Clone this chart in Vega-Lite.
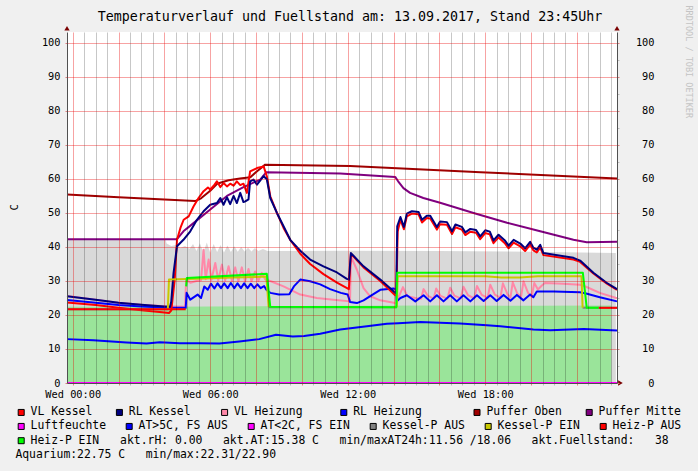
{
 "$schema": "https://vega.github.io/schema/vega-lite/v6.json",
 "width": 550,
 "height": 351,
 "autosize": {"type": "none"},
 "padding": {"left": 67, "top": 32, "right": 81, "bottom": 88},
 "background": "#F0F0F0",
 "title": {"text": "Temperaturverlauf und Fuellstand am: 13.09.2017, Stand 23:45Uhr", "font": "DejaVu Sans Mono", "fontSize": 13.3, "fontWeight": "normal", "color": "#000000", "anchor": "middle", "frame": "group", "dx": 8, "baseline": "middle", "offset": -25},
 "config": {"view": {"fill": "#FFFFFF", "stroke": null}, "font": "DejaVu Sans Mono"},
 "datasets": {
  "series": [
   {"s":"Fuellstand","t":-0.25,"v":42.2},{"s":"Fuellstand","t":4.05,"v":42.2},{"s":"Fuellstand","t":4.1,"v":41.0},{"s":"Fuellstand","t":4.3,"v":40.3},{"s":"Fuellstand","t":4.5,"v":40.6},{"s":"Fuellstand","t":4.7,"v":39.8},{"s":"Fuellstand","t":4.9,"v":40.3},{"s":"Fuellstand","t":5.1,"v":39.5},{"s":"Fuellstand","t":5.25,"v":40.9},{"s":"Fuellstand","t":5.4,"v":38.8},{"s":"Fuellstand","t":5.55,"v":41.1},{"s":"Fuellstand","t":5.7,"v":38.4},{"s":"Fuellstand","t":5.85,"v":41.3},{"s":"Fuellstand","t":6.0,"v":38.3},{"s":"Fuellstand","t":6.15,"v":40.9},{"s":"Fuellstand","t":6.3,"v":38.5},{"s":"Fuellstand","t":6.45,"v":40.6},{"s":"Fuellstand","t":6.6,"v":38.4},{"s":"Fuellstand","t":6.75,"v":40.4},{"s":"Fuellstand","t":6.9,"v":38.5},{"s":"Fuellstand","t":7.05,"v":40.2},{"s":"Fuellstand","t":7.2,"v":38.6},{"s":"Fuellstand","t":7.35,"v":40.0},{"s":"Fuellstand","t":7.5,"v":38.7},{"s":"Fuellstand","t":7.65,"v":39.8},{"s":"Fuellstand","t":7.8,"v":38.7},{"s":"Fuellstand","t":7.95,"v":39.7},{"s":"Fuellstand","t":8.1,"v":38.8},{"s":"Fuellstand","t":8.3,"v":39.4},{"s":"Fuellstand","t":8.5,"v":38.8},{"s":"Fuellstand","t":12,"v":38.9},{"s":"Fuellstand","t":16,"v":38.8},{"s":"Fuellstand","t":20,"v":38.6},{"s":"Fuellstand","t":23.7,"v":38.2},
   {"s":"Aquarium","t":-0.25,"v":22.4},{"s":"Aquarium","t":4,"v":22.4},{"s":"Aquarium","t":8,"v":22.6},{"s":"Aquarium","t":12,"v":22.7},{"s":"Aquarium","t":16,"v":22.8},{"s":"Aquarium","t":20,"v":22.7},{"s":"Aquarium","t":23.5,"v":22.75},
   {"s":"Puffer Oben","t":-0.25,"v":55.4},{"s":"Puffer Oben","t":2,"v":54.6},{"s":"Puffer Oben","t":5.34,"v":53.5},{"s":"Puffer Oben","t":5.6,"v":54.3},{"s":"Puffer Oben","t":6.0,"v":56.5},{"s":"Puffer Oben","t":6.3,"v":58.6},{"s":"Puffer Oben","t":6.8,"v":59.6},{"s":"Puffer Oben","t":7.3,"v":60.1},{"s":"Puffer Oben","t":7.75,"v":60.5},{"s":"Puffer Oben","t":8.03,"v":62.2},{"s":"Puffer Oben","t":8.4,"v":64.2},{"s":"Puffer Oben","t":12.1,"v":63.8},{"s":"Puffer Oben","t":17.8,"v":62.0},{"s":"Puffer Oben","t":23.75,"v":60.1},
   {"s":"Puffer Mitte","t":-0.25,"v":42.3},{"s":"Puffer Mitte","t":4.55,"v":42.3},{"s":"Puffer Mitte","t":4.83,"v":44.6},{"s":"Puffer Mitte","t":5.27,"v":47.0},{"s":"Puffer Mitte","t":6.0,"v":51.0},{"s":"Puffer Mitte","t":6.73,"v":55.0},{"s":"Puffer Mitte","t":7.45,"v":57.6},{"s":"Puffer Mitte","t":8.18,"v":59.8},{"s":"Puffer Mitte","t":8.45,"v":62.0},{"s":"Puffer Mitte","t":11.67,"v":61.6},{"s":"Puffer Mitte","t":14.07,"v":60.6},{"s":"Puffer Mitte","t":14.2,"v":59.3},{"s":"Puffer Mitte","t":14.43,"v":57.3},{"s":"Puffer Mitte","t":14.72,"v":55.9},{"s":"Puffer Mitte","t":15.3,"v":54.4},{"s":"Puffer Mitte","t":16.03,"v":53.0},{"s":"Puffer Mitte","t":17.49,"v":50.0},{"s":"Puffer Mitte","t":18.95,"v":47.1},{"s":"Puffer Mitte","t":20.4,"v":44.6},{"s":"Puffer Mitte","t":21.85,"v":42.1},{"s":"Puffer Mitte","t":22.43,"v":41.4},{"s":"Puffer Mitte","t":23.75,"v":41.5},
   {"s":"VL Heizung","t":-0.25,"v":25.6},{"s":"VL Heizung","t":1,"v":24.5},{"s":"VL Heizung","t":2,"v":23.6},{"s":"VL Heizung","t":3,"v":23.0},{"s":"VL Heizung","t":4,"v":22.6},{"s":"VL Heizung","t":4.9,"v":22.4},{"s":"VL Heizung","t":4.95,"v":30.4},{"s":"VL Heizung","t":5.13,"v":29.5},{"s":"VL Heizung","t":5.4,"v":30.0},{"s":"VL Heizung","t":5.6,"v":30.2},{"s":"VL Heizung","t":5.71,"v":39.2},{"s":"VL Heizung","t":5.8,"v":30.5},{"s":"VL Heizung","t":5.93,"v":36.3},{"s":"VL Heizung","t":6.05,"v":30.3},{"s":"VL Heizung","t":6.22,"v":35.3},{"s":"VL Heizung","t":6.35,"v":30.2},{"s":"VL Heizung","t":6.51,"v":34.8},{"s":"VL Heizung","t":6.65,"v":30.1},{"s":"VL Heizung","t":6.8,"v":34.3},{"s":"VL Heizung","t":6.95,"v":30.0},{"s":"VL Heizung","t":7.09,"v":34.0},{"s":"VL Heizung","t":7.23,"v":30.0},{"s":"VL Heizung","t":7.38,"v":34.0},{"s":"VL Heizung","t":7.52,"v":29.9},{"s":"VL Heizung","t":7.67,"v":33.5},{"s":"VL Heizung","t":7.8,"v":29.9},{"s":"VL Heizung","t":7.96,"v":32.8},{"s":"VL Heizung","t":8.1,"v":30.0},{"s":"VL Heizung","t":8.25,"v":32.4},{"s":"VL Heizung","t":8.4,"v":30.4},{"s":"VL Heizung","t":8.62,"v":30.0},{"s":"VL Heizung","t":9.2,"v":28.4},{"s":"VL Heizung","t":9.93,"v":26.0},{"s":"VL Heizung","t":10.65,"v":25.0},{"s":"VL Heizung","t":11.38,"v":24.5},{"s":"VL Heizung","t":12.1,"v":24.0},{"s":"VL Heizung","t":12.14,"v":37.2},{"s":"VL Heizung","t":12.4,"v":33.3},{"s":"VL Heizung","t":12.69,"v":27.9},{"s":"VL Heizung","t":12.98,"v":25.5},{"s":"VL Heizung","t":13.42,"v":24.3},{"s":"VL Heizung","t":14.07,"v":23.5},{"s":"VL Heizung","t":14.14,"v":23.6},{"s":"VL Heizung","t":14.2,"v":25.0},{"s":"VL Heizung","t":14.41,"v":28.2},{"s":"VL Heizung","t":14.6,"v":25.5},{"s":"VL Heizung","t":15.0,"v":24.9},{"s":"VL Heizung","t":15.2,"v":24.8},{"s":"VL Heizung","t":15.31,"v":27.6},{"s":"VL Heizung","t":15.5,"v":25.6},{"s":"VL Heizung","t":15.75,"v":24.8},{"s":"VL Heizung","t":15.86,"v":27.8},{"s":"VL Heizung","t":16.05,"v":25.6},{"s":"VL Heizung","t":16.35,"v":24.8},{"s":"VL Heizung","t":16.47,"v":28.0},{"s":"VL Heizung","t":16.65,"v":25.7},{"s":"VL Heizung","t":16.93,"v":24.9},{"s":"VL Heizung","t":17.05,"v":28.3},{"s":"VL Heizung","t":17.25,"v":25.8},{"s":"VL Heizung","t":17.52,"v":24.9},{"s":"VL Heizung","t":17.64,"v":28.5},{"s":"VL Heizung","t":17.85,"v":25.9},{"s":"VL Heizung","t":18.1,"v":25.0},{"s":"VL Heizung","t":18.22,"v":28.9},{"s":"VL Heizung","t":18.42,"v":26.0},{"s":"VL Heizung","t":18.66,"v":25.0},{"s":"VL Heizung","t":18.77,"v":29.3},{"s":"VL Heizung","t":18.97,"v":26.1},{"s":"VL Heizung","t":19.1,"v":25.1},{"s":"VL Heizung","t":19.2,"v":29.6},{"s":"VL Heizung","t":19.4,"v":26.3},{"s":"VL Heizung","t":19.56,"v":25.2},{"s":"VL Heizung","t":19.67,"v":29.9},{"s":"VL Heizung","t":19.87,"v":26.5},{"s":"VL Heizung","t":20.03,"v":25.4},{"s":"VL Heizung","t":20.14,"v":29.4},{"s":"VL Heizung","t":20.3,"v":27.5},{"s":"VL Heizung","t":20.45,"v":28.5},{"s":"VL Heizung","t":20.6,"v":29.4},{"s":"VL Heizung","t":21.4,"v":29.2},{"s":"VL Heizung","t":22.14,"v":28.9},{"s":"VL Heizung","t":22.4,"v":28.3},{"s":"VL Heizung","t":23.0,"v":26.5},{"s":"VL Heizung","t":23.75,"v":24.9},
   {"s":"AT>5C, FS AUS","t":-0.25,"v":12.9},{"s":"AT>5C, FS AUS","t":0.9,"v":12.6},{"s":"AT>5C, FS AUS","t":2.35,"v":11.9},{"s":"AT>5C, FS AUS","t":3.22,"v":11.6},{"s":"AT>5C, FS AUS","t":3.8,"v":12.0},{"s":"AT>5C, FS AUS","t":4.67,"v":11.7},{"s":"AT>5C, FS AUS","t":5.56,"v":11.7},{"s":"AT>5C, FS AUS","t":6.4,"v":11.6},{"s":"AT>5C, FS AUS","t":7.27,"v":12.2},{"s":"AT>5C, FS AUS","t":8.14,"v":12.9},{"s":"AT>5C, FS AUS","t":8.87,"v":14.2},{"s":"AT>5C, FS AUS","t":9.6,"v":13.7},{"s":"AT>5C, FS AUS","t":10.1,"v":13.8},{"s":"AT>5C, FS AUS","t":10.8,"v":14.5},{"s":"AT>5C, FS AUS","t":11.67,"v":15.7},{"s":"AT>5C, FS AUS","t":12.84,"v":16.7},{"s":"AT>5C, FS AUS","t":13.71,"v":17.4},{"s":"AT>5C, FS AUS","t":14.2,"v":17.6},{"s":"AT>5C, FS AUS","t":15.16,"v":17.9},{"s":"AT>5C, FS AUS","t":16.9,"v":17.5},{"s":"AT>5C, FS AUS","t":18.07,"v":17.0},{"s":"AT>5C, FS AUS","t":18.66,"v":16.7},{"s":"AT>5C, FS AUS","t":20.1,"v":15.7},{"s":"AT>5C, FS AUS","t":20.84,"v":15.5},{"s":"AT>5C, FS AUS","t":22.3,"v":15.9},{"s":"AT>5C, FS AUS","t":23.75,"v":15.4},
   {"s":"Luftfeuchte","t":-0.25,"v":0},{"s":"Luftfeuchte","t":23.75,"v":0},
   {"s":"RL Heizung","t":-0.25,"v":24.4},{"s":"RL Heizung","t":1,"v":23.6},{"s":"RL Heizung","t":2,"v":22.9},{"s":"RL Heizung","t":3,"v":22.5},{"s":"RL Heizung","t":4,"v":22.2},{"s":"RL Heizung","t":4.93,"v":22.1},{"s":"RL Heizung","t":4.97,"v":26.5},{"s":"RL Heizung","t":5.13,"v":24.5},{"s":"RL Heizung","t":5.45,"v":26.0},{"s":"RL Heizung","t":5.6,"v":25.0},{"s":"RL Heizung","t":5.74,"v":28.4},{"s":"RL Heizung","t":5.89,"v":27.4},{"s":"RL Heizung","t":6.03,"v":29.2},{"s":"RL Heizung","t":6.18,"v":27.8},{"s":"RL Heizung","t":6.32,"v":29.3},{"s":"RL Heizung","t":6.47,"v":27.9},{"s":"RL Heizung","t":6.61,"v":29.3},{"s":"RL Heizung","t":6.76,"v":27.9},{"s":"RL Heizung","t":6.9,"v":29.4},{"s":"RL Heizung","t":7.05,"v":27.9},{"s":"RL Heizung","t":7.19,"v":29.3},{"s":"RL Heizung","t":7.34,"v":27.9},{"s":"RL Heizung","t":7.48,"v":29.3},{"s":"RL Heizung","t":7.63,"v":27.9},{"s":"RL Heizung","t":7.77,"v":29.2},{"s":"RL Heizung","t":7.92,"v":27.9},{"s":"RL Heizung","t":8.06,"v":29.0},{"s":"RL Heizung","t":8.2,"v":27.9},{"s":"RL Heizung","t":8.35,"v":28.5},{"s":"RL Heizung","t":8.45,"v":27.4},{"s":"RL Heizung","t":8.62,"v":26.5},{"s":"RL Heizung","t":9.0,"v":26.0},{"s":"RL Heizung","t":9.45,"v":26.1},{"s":"RL Heizung","t":9.65,"v":28.4},{"s":"RL Heizung","t":9.93,"v":30.4},{"s":"RL Heizung","t":10.36,"v":29.9},{"s":"RL Heizung","t":10.8,"v":29.0},{"s":"RL Heizung","t":11.23,"v":27.6},{"s":"RL Heizung","t":11.7,"v":26.5},{"s":"RL Heizung","t":12.0,"v":26.0},{"s":"RL Heizung","t":12.1,"v":23.8},{"s":"RL Heizung","t":12.4,"v":23.5},{"s":"RL Heizung","t":12.69,"v":24.3},{"s":"RL Heizung","t":13.0,"v":25.6},{"s":"RL Heizung","t":13.42,"v":27.4},{"s":"RL Heizung","t":14.0,"v":27.8},{"s":"RL Heizung","t":14.1,"v":27.5},{"s":"RL Heizung","t":14.14,"v":24.0},{"s":"RL Heizung","t":14.3,"v":25.0},{"s":"RL Heizung","t":14.58,"v":25.8},{"s":"RL Heizung","t":14.95,"v":24.0},{"s":"RL Heizung","t":15.31,"v":25.8},{"s":"RL Heizung","t":15.6,"v":24.0},{"s":"RL Heizung","t":15.89,"v":25.8},{"s":"RL Heizung","t":16.18,"v":24.0},{"s":"RL Heizung","t":16.47,"v":25.8},{"s":"RL Heizung","t":16.76,"v":24.0},{"s":"RL Heizung","t":17.05,"v":25.8},{"s":"RL Heizung","t":17.35,"v":24.0},{"s":"RL Heizung","t":17.64,"v":25.8},{"s":"RL Heizung","t":17.93,"v":24.1},{"s":"RL Heizung","t":18.22,"v":25.8},{"s":"RL Heizung","t":18.5,"v":24.1},{"s":"RL Heizung","t":18.8,"v":25.9},{"s":"RL Heizung","t":19.1,"v":24.2},{"s":"RL Heizung","t":19.38,"v":25.9},{"s":"RL Heizung","t":19.67,"v":24.3},{"s":"RL Heizung","t":19.96,"v":26.0},{"s":"RL Heizung","t":20.1,"v":25.2},{"s":"RL Heizung","t":20.25,"v":26.9},{"s":"RL Heizung","t":21.0,"v":26.9},{"s":"RL Heizung","t":22.14,"v":26.7},{"s":"RL Heizung","t":22.4,"v":26.3},{"s":"RL Heizung","t":23.0,"v":25.2},{"s":"RL Heizung","t":23.75,"v":24.0},
   {"s":"VL Kessel","t":-0.25,"v":23.7},{"s":"VL Kessel","t":1,"v":22.9},{"s":"VL Kessel","t":2,"v":22.1},{"s":"VL Kessel","t":3,"v":21.4},{"s":"VL Kessel","t":3.9,"v":20.8},{"s":"VL Kessel","t":4.2,"v":20.6},{"s":"VL Kessel","t":4.3,"v":21.3},{"s":"VL Kessel","t":4.45,"v":30.4},{"s":"VL Kessel","t":4.55,"v":42.1},{"s":"VL Kessel","t":4.7,"v":45.6},{"s":"VL Kessel","t":4.84,"v":48.0},{"s":"VL Kessel","t":5.06,"v":49.0},{"s":"VL Kessel","t":5.27,"v":51.9},{"s":"VL Kessel","t":5.49,"v":54.4},{"s":"VL Kessel","t":5.71,"v":56.4},{"s":"VL Kessel","t":5.9,"v":57.5},{"s":"VL Kessel","t":6.0,"v":56.9},{"s":"VL Kessel","t":6.15,"v":58.0},{"s":"VL Kessel","t":6.29,"v":59.3},{"s":"VL Kessel","t":6.44,"v":57.6},{"s":"VL Kessel","t":6.58,"v":58.8},{"s":"VL Kessel","t":6.73,"v":57.8},{"s":"VL Kessel","t":6.87,"v":58.6},{"s":"VL Kessel","t":7.02,"v":58.0},{"s":"VL Kessel","t":7.16,"v":59.3},{"s":"VL Kessel","t":7.31,"v":58.2},{"s":"VL Kessel","t":7.45,"v":58.6},{"s":"VL Kessel","t":7.6,"v":55.9},{"s":"VL Kessel","t":7.74,"v":62.2},{"s":"VL Kessel","t":8.04,"v":63.2},{"s":"VL Kessel","t":8.33,"v":63.7},{"s":"VL Kessel","t":8.47,"v":60.8},{"s":"VL Kessel","t":8.62,"v":54.9},{"s":"VL Kessel","t":8.91,"v":50.0},{"s":"VL Kessel","t":9.2,"v":45.6},{"s":"VL Kessel","t":9.49,"v":42.1},{"s":"VL Kessel","t":9.93,"v":38.0},{"s":"VL Kessel","t":10.36,"v":35.0},{"s":"VL Kessel","t":10.94,"v":32.0},{"s":"VL Kessel","t":11.53,"v":29.5},{"s":"VL Kessel","t":12.05,"v":27.6},{"s":"VL Kessel","t":12.14,"v":38.0},{"s":"VL Kessel","t":12.69,"v":34.0},{"s":"VL Kessel","t":13.42,"v":30.0},{"s":"VL Kessel","t":14.07,"v":25.8},{"s":"VL Kessel","t":14.12,"v":26.0},{"s":"VL Kessel","t":14.18,"v":44.5},{"s":"VL Kessel","t":14.3,"v":48.0},{"s":"VL Kessel","t":14.45,"v":45.2},{"s":"VL Kessel","t":14.58,"v":49.0},{"s":"VL Kessel","t":14.8,"v":49.8},{"s":"VL Kessel","t":15.09,"v":49.6},{"s":"VL Kessel","t":15.24,"v":47.2},{"s":"VL Kessel","t":15.45,"v":48.5},{"s":"VL Kessel","t":15.6,"v":48.4},{"s":"VL Kessel","t":15.89,"v":45.1},{"s":"VL Kessel","t":16.03,"v":46.7},{"s":"VL Kessel","t":16.33,"v":46.5},{"s":"VL Kessel","t":16.55,"v":43.8},{"s":"VL Kessel","t":16.7,"v":45.8},{"s":"VL Kessel","t":16.98,"v":45.1},{"s":"VL Kessel","t":17.13,"v":43.5},{"s":"VL Kessel","t":17.35,"v":44.5},{"s":"VL Kessel","t":17.6,"v":44.2},{"s":"VL Kessel","t":17.78,"v":42.3},{"s":"VL Kessel","t":18.0,"v":44.1},{"s":"VL Kessel","t":18.2,"v":43.7},{"s":"VL Kessel","t":18.36,"v":41.1},{"s":"VL Kessel","t":18.58,"v":42.8},{"s":"VL Kessel","t":18.87,"v":41.0},{"s":"VL Kessel","t":19.02,"v":39.6},{"s":"VL Kessel","t":19.24,"v":41.3},{"s":"VL Kessel","t":19.53,"v":40.2},{"s":"VL Kessel","t":19.74,"v":38.8},{"s":"VL Kessel","t":19.96,"v":40.7},{"s":"VL Kessel","t":20.1,"v":39.0},{"s":"VL Kessel","t":20.25,"v":38.4},{"s":"VL Kessel","t":20.4,"v":39.8},{"s":"VL Kessel","t":20.54,"v":37.6},{"s":"VL Kessel","t":21.85,"v":36.3},{"s":"VL Kessel","t":22.14,"v":35.6},{"s":"VL Kessel","t":22.72,"v":32.2},{"s":"VL Kessel","t":23.31,"v":29.2},{"s":"VL Kessel","t":23.75,"v":27.4},
   {"s":"RL Kessel","t":-0.25,"v":25.5},{"s":"RL Kessel","t":1,"v":24.5},{"s":"RL Kessel","t":2,"v":23.6},{"s":"RL Kessel","t":3,"v":23.0},{"s":"RL Kessel","t":4,"v":22.5},{"s":"RL Kessel","t":4.25,"v":22.4},{"s":"RL Kessel","t":4.3,"v":24.0},{"s":"RL Kessel","t":4.4,"v":32.4},{"s":"RL Kessel","t":4.55,"v":40.2},{"s":"RL Kessel","t":4.83,"v":42.1},{"s":"RL Kessel","t":5.13,"v":44.6},{"s":"RL Kessel","t":5.42,"v":48.0},{"s":"RL Kessel","t":5.71,"v":50.5},{"s":"RL Kessel","t":6.0,"v":52.4},{"s":"RL Kessel","t":6.29,"v":52.9},{"s":"RL Kessel","t":6.44,"v":54.4},{"s":"RL Kessel","t":6.58,"v":52.4},{"s":"RL Kessel","t":6.73,"v":54.6},{"s":"RL Kessel","t":6.87,"v":52.6},{"s":"RL Kessel","t":7.02,"v":55.0},{"s":"RL Kessel","t":7.16,"v":52.9},{"s":"RL Kessel","t":7.31,"v":55.9},{"s":"RL Kessel","t":7.45,"v":53.2},{"s":"RL Kessel","t":7.53,"v":53.4},{"s":"RL Kessel","t":7.67,"v":54.0},{"s":"RL Kessel","t":7.74,"v":59.3},{"s":"RL Kessel","t":7.89,"v":59.8},{"s":"RL Kessel","t":8.04,"v":58.3},{"s":"RL Kessel","t":8.33,"v":60.8},{"s":"RL Kessel","t":8.47,"v":59.9},{"s":"RL Kessel","t":8.62,"v":54.4},{"s":"RL Kessel","t":8.91,"v":50.0},{"s":"RL Kessel","t":9.2,"v":46.1},{"s":"RL Kessel","t":9.49,"v":42.1},{"s":"RL Kessel","t":9.93,"v":38.9},{"s":"RL Kessel","t":10.36,"v":36.3},{"s":"RL Kessel","t":10.94,"v":34.3},{"s":"RL Kessel","t":11.53,"v":32.5},{"s":"RL Kessel","t":11.96,"v":30.6},{"s":"RL Kessel","t":12.05,"v":30.4},{"s":"RL Kessel","t":12.14,"v":38.2},{"s":"RL Kessel","t":12.69,"v":34.3},{"s":"RL Kessel","t":13.42,"v":30.4},{"s":"RL Kessel","t":14.07,"v":26.5},{"s":"RL Kessel","t":14.12,"v":26.7},{"s":"RL Kessel","t":14.16,"v":46.1},{"s":"RL Kessel","t":14.3,"v":48.8},{"s":"RL Kessel","t":14.45,"v":45.9},{"s":"RL Kessel","t":14.58,"v":49.8},{"s":"RL Kessel","t":14.8,"v":50.5},{"s":"RL Kessel","t":15.09,"v":50.3},{"s":"RL Kessel","t":15.24,"v":48.0},{"s":"RL Kessel","t":15.45,"v":49.2},{"s":"RL Kessel","t":15.6,"v":49.2},{"s":"RL Kessel","t":15.89,"v":45.9},{"s":"RL Kessel","t":16.03,"v":47.5},{"s":"RL Kessel","t":16.33,"v":47.3},{"s":"RL Kessel","t":16.55,"v":44.6},{"s":"RL Kessel","t":16.7,"v":46.6},{"s":"RL Kessel","t":16.98,"v":45.9},{"s":"RL Kessel","t":17.13,"v":44.3},{"s":"RL Kessel","t":17.35,"v":45.3},{"s":"RL Kessel","t":17.6,"v":45.0},{"s":"RL Kessel","t":17.78,"v":43.1},{"s":"RL Kessel","t":18.0,"v":44.9},{"s":"RL Kessel","t":18.2,"v":44.5},{"s":"RL Kessel","t":18.36,"v":41.9},{"s":"RL Kessel","t":18.58,"v":43.6},{"s":"RL Kessel","t":18.87,"v":41.8},{"s":"RL Kessel","t":19.02,"v":40.4},{"s":"RL Kessel","t":19.24,"v":42.1},{"s":"RL Kessel","t":19.53,"v":41.0},{"s":"RL Kessel","t":19.74,"v":39.6},{"s":"RL Kessel","t":19.96,"v":41.5},{"s":"RL Kessel","t":20.1,"v":39.8},{"s":"RL Kessel","t":20.25,"v":39.2},{"s":"RL Kessel","t":20.4,"v":40.6},{"s":"RL Kessel","t":20.54,"v":38.2},{"s":"RL Kessel","t":21.85,"v":36.8},{"s":"RL Kessel","t":22.14,"v":36.0},{"s":"RL Kessel","t":22.72,"v":32.4},{"s":"RL Kessel","t":23.31,"v":29.4},{"s":"RL Kessel","t":23.75,"v":27.6},
   {"s":"Kessel-P AUS","g":1,"t":-0.25,"v":21.7},{"s":"Kessel-P AUS","g":1,"t":4.15,"v":21.7},{"s":"Kessel-P AUS","g":2,"t":8.55,"v":22.3},{"s":"Kessel-P AUS","g":2,"t":14.14,"v":22.3},{"s":"Kessel-P AUS","g":3,"t":22.25,"v":22.1},{"s":"Kessel-P AUS","g":3,"t":23.75,"v":22.1},
   {"s":"Kessel-P EIN","g":1,"t":4.15,"v":21.7},{"s":"Kessel-P EIN","g":1,"t":4.2,"v":30.4},{"s":"Kessel-P EIN","g":1,"t":5.0,"v":30.6},{"s":"Kessel-P EIN","g":1,"t":6.0,"v":30.8},{"s":"Kessel-P EIN","g":1,"t":7.0,"v":31.0},{"s":"Kessel-P EIN","g":1,"t":8.0,"v":31.2},{"s":"Kessel-P EIN","g":1,"t":8.45,"v":31.3},{"s":"Kessel-P EIN","g":1,"t":8.55,"v":22.3},{"s":"Kessel-P EIN","g":2,"t":14.14,"v":22.3},{"s":"Kessel-P EIN","g":2,"t":14.18,"v":31.4},{"s":"Kessel-P EIN","g":2,"t":18.0,"v":31.4},{"s":"Kessel-P EIN","g":2,"t":18.7,"v":31.0},{"s":"Kessel-P EIN","g":2,"t":19.5,"v":31.0},{"s":"Kessel-P EIN","g":2,"t":20.3,"v":31.4},{"s":"Kessel-P EIN","g":2,"t":22.2,"v":31.4},{"s":"Kessel-P EIN","g":2,"t":22.25,"v":22.1},
   {"s":"Heiz-P AUS","g":1,"t":-0.25,"v":21.7},{"s":"Heiz-P AUS","g":1,"t":4.93,"v":21.7},{"s":"Heiz-P AUS","g":2,"t":22.95,"v":22.1},{"s":"Heiz-P AUS","g":2,"t":23.75,"v":22.1},
   {"s":"Heiz-P EIN","t":4.95,"v":28.4},{"s":"Heiz-P EIN","t":4.98,"v":30.9},{"s":"Heiz-P EIN","t":8.47,"v":32.1},{"s":"Heiz-P EIN","t":8.62,"v":22.4},{"s":"Heiz-P EIN","t":14.12,"v":22.3},{"s":"Heiz-P EIN","t":14.16,"v":32.4},{"s":"Heiz-P EIN","t":22.26,"v":32.4},{"s":"Heiz-P EIN","t":22.43,"v":22.1},{"s":"Heiz-P EIN","t":22.95,"v":22.1}
  ]
 },
 "layer": [
  {
   "data": {"values": [{}]},
   "mark": {"type": "rect", "color": "#FFFFFF", "opacity": 1},
   "encoding": {
    "x": {"datum": -0.25, "type": "quantitative"},
    "x2": {"datum": 23.75},
    "y": {"datum": 0, "type": "quantitative", "axis": null},
    "y2": {"datum": 103.2}
   }
  },
  {
   "data": {"name": "series"},
   "transform": [{"filter": "datum.s === 'Fuellstand'"}],
   "mark": {"type": "area", "color": "#000000", "opacity": 0.15},
   "encoding": {
    "x": {"field": "t", "type": "quantitative", "scale": {"domain": [-0.25, 23.75], "nice": false, "zero": false},
     "axis": {"values": [0,0.5,1,1.5,2,2.5,3,3.5,4,4.5,5,5.5,6,6.5,7,7.5,8,8.5,9,9.5,10,10.5,11,11.5,12,12.5,13,13.5,14,14.5,15,15.5,16,16.5,17,17.5,18,18.5,19,19.5,20,20.5,21,21.5,22,22.5,23,23.5],
      "tickCount": 48,
      "title": null, "grid": true, "zindex": 1,
      "gridColor": {"condition": {"test": "datum.value % 2 === 0", "value": "#E80000"}, "value": "#000000"},
      "gridOpacity": {"condition": {"test": "datum.value % 2 === 0", "value": 0.36}, "value": 0.22},
      "tickSize": 2,
      "tickColor": {"condition": {"test": "datum.value % 2 === 0", "value": "#E08080"}, "value": "#BBBBBB"},
      "labelExpr": "datum.value % 6 === 0 ? 'Wed ' + (datum.value < 10 ? '0' : '') + datum.value + ':00' : ''",
      "labelFont": "DejaVu Sans Mono", "labelFontSize": 10.3, "labelColor": "#000000", "labelPadding": 4,
      "labelOverlap": false, "labelFlush": false, "labelBound": false,
      "domainColor": "#505050"}},
    "y": {"field": "v", "type": "quantitative", "scale": {"domain": [0, 103.2], "nice": false},
     "axis": {"values": [0,5,10,15,20,25,30,35,40,45,50,55,60,65,70,75,80,85,90,95,100],
      "tickCount": 20,
      "title": "C", "titleFont": "DejaVu Sans Mono", "titleFontSize": 10.3, "titleFontWeight": "normal", "titleColor": "#000000",
      "titleX": -53, "titleY": 175, "titleAngle": -90, "titleAlign": "center", "titleBaseline": "middle",
      "grid": true, "zindex": 1,
      "gridColor": {"condition": {"test": "datum.value % 10 === 0", "value": "#E80000"}, "value": "#000000"},
      "gridOpacity": {"condition": {"test": "datum.value % 10 === 0", "value": 0.36}, "value": 0.22},
      "tickSize": 2,
      "tickColor": {"condition": {"test": "datum.value % 10 === 0", "value": "#E08080"}, "value": "#BBBBBB"},
      "labelExpr": "datum.value % 10 === 0 ? datum.label : ''",
      "labelFont": "DejaVu Sans Mono", "labelFontSize": 10.3, "labelColor": "#000000", "labelPadding": 5,
      "labelOverlap": false, "labelFlush": false, "labelBound": false,
      "domainColor": "#505050"}}
   }
  },
  {
   "data": {"name": "series"},
   "transform": [{"filter": "datum.s === 'Aquarium'"}],
   "mark": {"type": "area", "color": "#00FF00", "opacity": 0.29},
   "encoding": {"x": {"field": "t", "type": "quantitative"}, "y": {"field": "v", "type": "quantitative", "axis": null}}
  },
  {
   "data": {"name": "series"},
   "transform": [{"filter": {"field": "s", "oneOf": ["Puffer Oben", "Puffer Mitte", "VL Heizung", "AT>5C, FS AUS", "Luftfeuchte"]}}],
   "mark": {"type": "line", "strokeWidth": 2, "strokeJoin": "round"},
   "encoding": {
    "x": {"field": "t", "type": "quantitative"},
    "y": {"field": "v", "type": "quantitative", "axis": null},
    "stroke": {"field": "s", "type": "nominal", "legend": null,
     "scale": {"domain": ["Heiz-P EIN", "Heiz-P AUS", "Kessel-P EIN", "Kessel-P AUS", "AT<2C, FS EIN", "AT>5C, FS AUS", "Luftfeuchte", "Puffer Mitte", "Puffer Oben", "RL Heizung", "VL Heizung", "RL Kessel", "VL Kessel"],
      "range": ["#00FF00", "#FF0000", "#C8C800", "#808080", "#FF00FF", "#0000FF", "#FF00FF", "#800080", "#A00000", "#0000FF", "#FF88A8", "#000080", "#FF0000"]}}
   }
  },
  {
   "data": {"name": "series"},
   "transform": [{"filter": {"field": "s", "oneOf": ["RL Heizung", "VL Kessel"]}}],
   "mark": {"type": "line", "strokeWidth": 2, "strokeJoin": "round"},
   "encoding": {"x": {"field": "t", "type": "quantitative"}, "y": {"field": "v", "type": "quantitative", "axis": null}, "stroke": {"field": "s", "type": "nominal", "legend": null}}
  },
  {
   "data": {"name": "series"},
   "transform": [{"filter": "datum.s === 'RL Kessel'"}],
   "mark": {"type": "line", "strokeWidth": 2, "strokeJoin": "round"},
   "encoding": {"x": {"field": "t", "type": "quantitative"}, "y": {"field": "v", "type": "quantitative", "axis": null}, "stroke": {"field": "s", "type": "nominal", "legend": null}}
  },
  {
   "data": {"name": "series"},
   "transform": [{"filter": {"field": "s", "oneOf": ["Kessel-P AUS", "Kessel-P EIN", "Heiz-P AUS"]}}],
   "mark": {"type": "line", "strokeWidth": 2, "strokeJoin": "round"},
   "encoding": {"x": {"field": "t", "type": "quantitative"}, "y": {"field": "v", "type": "quantitative", "axis": null}, "stroke": {"field": "s", "type": "nominal", "legend": null}, "detail": {"field": "g", "type": "nominal"}}
  },
  {
   "data": {"name": "series"},
   "transform": [{"filter": "datum.s === 'Heiz-P EIN'"}],
   "mark": {"type": "line", "strokeWidth": 2, "strokeJoin": "round"},
   "encoding": {"x": {"field": "t", "type": "quantitative"}, "y": {"field": "v", "type": "quantitative", "axis": null}, "stroke": {"field": "s", "type": "nominal", "legend": null}}
  },
  {
   "data": {"values": []},
   "mark": {"type": "square", "filled": true, "stroke": "#000000", "strokeWidth": 1, "opacity": 1},
   "encoding": {
    "fill": {"field": "s", "type": "nominal",
     "scale": {"domain": ["VL Kessel", "RL Kessel", "VL Heizung", "RL Heizung", "Puffer Oben", "Puffer Mitte"],
      "range": ["#FF0000", "#000080", "#FF88A8", "#0000FF", "#A00000", "#800080"]},
     "legend": {"orient": "none", "legendX": -51.5, "legendY": 374.3, "direction": "horizontal", "columns": 6,
      "columnPadding": 21.2, "rowPadding": 1.7, "padding": 0, "title": null,
      "symbolType": "square", "symbolSize": 36, "symbolStrokeColor": "#000000", "symbolStrokeWidth": 1, "symbolOpacity": 1,
      "labelFont": "DejaVu Sans Mono", "labelFontSize": 11.4, "labelColor": "#000000", "labelOffset": 3.7, "labelLimit": 0,
      "labelExpr": "datum.label === 'RL Kessel' ? 'RL Kessel\u00a0\u200b' : datum.label === 'VL Heizung' ? 'VL Heizung\u00a0\u00a0\u200b' : datum.label === 'RL Heizung' ? 'RL Heizung\u00a0\u00a0\u00a0\u00a0\u200b' : datum.label"}}
   }
  },
  {
   "data": {"values": []},
   "mark": {"type": "square", "filled": true, "stroke": "#000000", "strokeWidth": 1, "opacity": 1},
   "encoding": {
    "color": {"field": "k", "type": "nominal",
     "scale": {"domain": ["Luftfeuchte", "AT>5C, FS AUS", "AT<2C, FS EIN", "Kessel-P AUS", "Kessel-P EIN", "Heiz-P AUS", "Heiz-P EIN"],
      "range": ["#FF00FF", "#0000FF", "#FF00FF", "#808080", "#C8C800", "#FF0000", "#00FF00"]},
     "legend": {"orient": "none", "legendX": -51.5, "legendY": 388.3, "direction": "horizontal", "columns": 6,
      "columnPadding": 17.0, "rowPadding": 1.7, "padding": 0, "title": null,
      "symbolType": "square", "symbolSize": 36, "symbolStrokeColor": "#000000", "symbolStrokeWidth": 1, "symbolOpacity": 1,
      "labelFont": "DejaVu Sans Mono", "labelFontSize": 11.4, "labelColor": "#000000", "labelOffset": 3.7, "labelLimit": 0}}
   }
  },
  {
   "data": {"values": []},
   "mark": {"type": "point"},
   "encoding": {
    "shape": {"field": "n", "type": "nominal",
     "scale": {"domain": ["akt.rH: 0.00\u00a0\u00a0\u00a0akt.AT:15.38 C\u00a0\u00a0\u00a0min/maxAT24h:11.56 /18.06\u00a0\u00a0\u00a0akt.Fuellstand:\u00a0\u00a0\u00a038"], "range": ["circle"]},
     "legend": {"orient": "none", "legendX": 41.7, "legendY": 403.3, "padding": 0, "title": null,
      "symbolSize": 0, "symbolOpacity": 0, "symbolStrokeWidth": 0,
      "labelFont": "DejaVu Sans Mono", "labelFontSize": 11.4, "labelColor": "#000000", "labelOffset": 0, "labelLimit": 0}}
   }
  },
  {
   "data": {"values": []},
   "mark": {"type": "point"},
   "encoding": {
    "strokeDash": {"field": "m", "type": "nominal",
     "scale": {"domain": ["Aquarium:22.75 C\u00a0\u00a0\u00a0min/max:22.31/22.90"], "range": [[1, 0]]},
     "legend": {"orient": "none", "legendX": -63, "legendY": 416.9, "padding": 0, "title": null,
      "symbolSize": 0, "symbolOpacity": 0, "symbolStrokeWidth": 0,
      "labelFont": "DejaVu Sans Mono", "labelFontSize": 11.4, "labelColor": "#000000", "labelOffset": 0, "labelLimit": 0}}
   }
  },
  {
   "data": {"values": [{"t": -0.25, "v": 104.3}, {"t": 23.75, "v": 104.3}]},
   "mark": {"type": "point", "shape": "triangle-up", "filled": true, "color": "#7A0000", "size": 28, "opacity": 1},
   "encoding": {
    "x": {"field": "t", "type": "quantitative"},
    "y": {"field": "v", "type": "quantitative",
     "axis": {"orient": "right", "values": [0,5,10,15,20,25,30,35,40,45,50,55,60,65,70,75,80,85,90,95,100],
      "grid": false, "tickSize": 2, "zindex": 1,
      "tickColor": {"condition": {"test": "datum.value % 10 === 0", "value": "#E08080"}, "value": "#BBBBBB"},
      "labelExpr": "datum.value % 10 === 0 ? datum.label : ''",
      "labelFont": "DejaVu Sans Mono", "labelFontSize": 10.3, "labelColor": "#000000", "labelAlign": "right", "labelPadding": 35,
      "labelOverlap": false, "labelFlush": false, "labelBound": false, "domainColor": "#505050",
      "title": "RRDTOOL / TOBI OETIKER", "titleFont": "DejaVu Sans Mono", "titleFontSize": 8.5, "titleFontWeight": "normal", "titleColor": "#C4C4C4",
      "titleAngle": 90, "titleX": 71, "titleY": -27, "titleAlign": "left", "titleBaseline": "middle"}}
   }
  },
  {
   "data": {"values": [{"t": 23.9, "v": 0}]},
   "mark": {"type": "point", "shape": "triangle-right", "filled": true, "color": "#7A0000", "size": 28, "opacity": 1},
   "encoding": {
    "x": {"field": "t", "type": "quantitative"},
    "y": {"field": "v", "type": "quantitative", "axis": null}
   }
  }
 ],
 "resolve": {"axis": {"y": "independent"}}
}
